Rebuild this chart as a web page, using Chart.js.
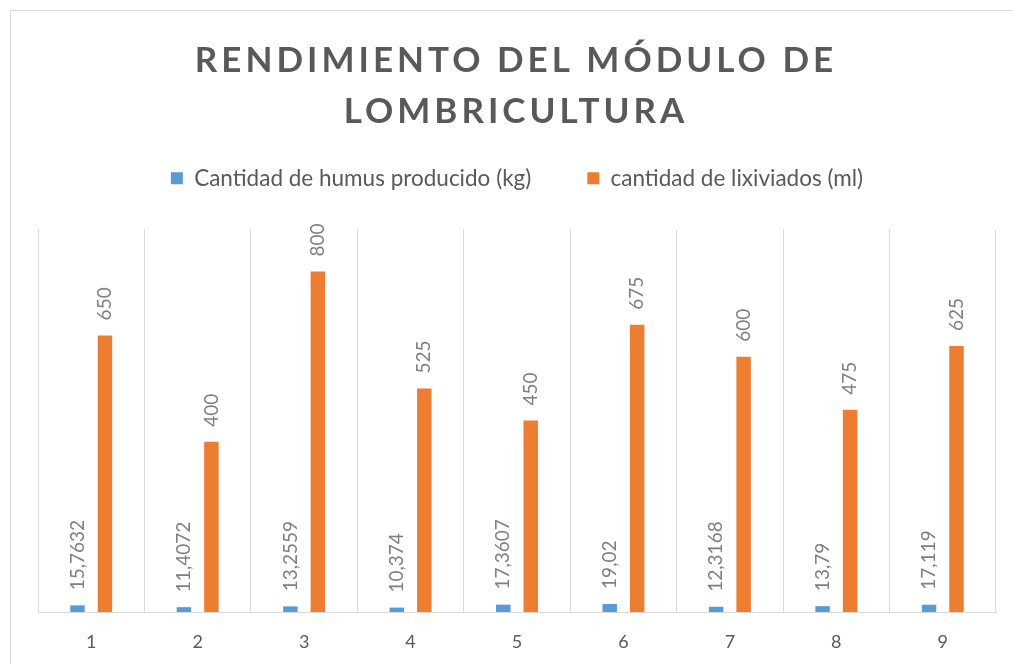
<!DOCTYPE html>
<html>
<head>
<meta charset="utf-8">
<script src="https://cdn.jsdelivr.net/npm/chart.js@4.4.0/dist/chart.umd.min.js"></script>
<style>
html, body { margin: 0; padding: 0; background: #fff; }
</style>
</head>
<body>
<canvas id="chart" width="1013" height="664"></canvas>
<script>
// datos
const categories = ["1", "2", "3", "4", "5", "6", "7", "8", "9"];
const humus = [15.7632, 11.4072, 13.2559, 10.374, 17.3607, 19.02, 12.3168, 13.79, 17.119];
const lixiviados = [650, 400, 800, 525, 450, 675, 600, 475, 625];
const titleLines = ["RENDIMIENTO DEL MÓDULO DE", "LOMBRICULTURA"];

const padTop = 111;
const plotTop = 229;

// marco + título con espaciado de letras
const frameTitle = {
    id: 'frameTitle',
    beforeDraw(chart) {
        const ctx = chart.ctx;
        ctx.save();
        ctx.fillStyle = '#fff';
        ctx.fillRect(0, 0, chart.width, chart.height);
        ctx.strokeStyle = '#d9d9d9';
        ctx.lineWidth = 1;
        ctx.strokeRect(10.5, 10.5, 1020, 700);
        ctx.restore();
    },
    afterDraw(chart) {
        const ctx = chart.ctx;
        ctx.save();
        ctx.font = 'bold 35px Lato';
        ctx.letterSpacing = '4px';
        ctx.fillStyle = '#595959';
        ctx.textAlign = 'center';
        ctx.textBaseline = 'alphabetic';
        ctx.fillText(titleLines[0], 516, 72);
        ctx.fillText(titleLines[1], 516, 123);
        ctx.restore();
    }
};

// etiquetas de datos verticales
const barLabels = {
    id: 'barLabels',
    afterDatasetsDraw(chart) {
        const ctx = chart.ctx;
        chart.data.datasets.forEach((ds, i) => {
            const meta = chart.getDatasetMeta(i);
            meta.data.forEach((bar, j) => {
                ctx.save();
                ctx.translate(bar.x, bar.y - 15);
                ctx.rotate(-Math.PI / 2);
                ctx.font = '19px Lato';
                ctx.fillStyle = '#7f7f7f';
                ctx.textAlign = 'left';
                ctx.textBaseline = 'middle';
                ctx.fillText(String(ds.data[j]).replace('.', ','), 0, 0);
                ctx.restore();
            });
        });
    }
};

new Chart(document.getElementById("chart"), {
    type: 'bar',
    data: {
        labels: categories,
        datasets: [
            {
                label: "Cantidad de humus producido (kg)",
                backgroundColor: "#5b9bd5",
                data: humus
            }, {
                label: "cantidad de lixiviados (ml)",
                backgroundColor: "#ed7d31",
                data: lixiviados
            }
        ]
    },
    options: {
        responsive: false,
        animation: false,
        categoryPercentage: 0.516,
        barPercentage: 0.527,
        layout: {
            padding: { top: padTop, left: 38, right: 17, bottom: 13 }
        },
        plugins: {
            title: { display: false },
            tooltip: { enabled: false },
            legend: {
                position: 'top',
                labels: {
                    boxWidth: 12,
                    boxHeight: 12,
                    padding: 56,
                    color: '#595959',
                    font: { family: 'Lato', size: 22.5 }
                }
            }
        },
        scales: {
            x: {
                grid: { color: '#d9d9d9', drawTicks: false, offset: true },
                border: { color: '#d9d9d9' },
                ticks: {
                    padding: 19,
                    color: '#595959',
                    font: { family: 'Lato', size: 18 }
                },
                afterFit(scale) { scale.height = 39; }
            },
            // banda vacía entre leyenda y área de trazado
            gap: {
                type: 'category',
                position: 'top',
                grid: { display: false },
                border: { display: false },
                ticks: { display: false },
                afterFit(scale) {
                    const lh = scale.chart.legend ? scale.chart.legend.height : 0;
                    scale.height = Math.max(0, plotTop - padTop - lh);
                }
            },
            y: {
                display: false,
                min: 0,
                max: 900
            }
        }
    },
    plugins: [frameTitle, barLabels]
});
</script>
</body>
</html>
